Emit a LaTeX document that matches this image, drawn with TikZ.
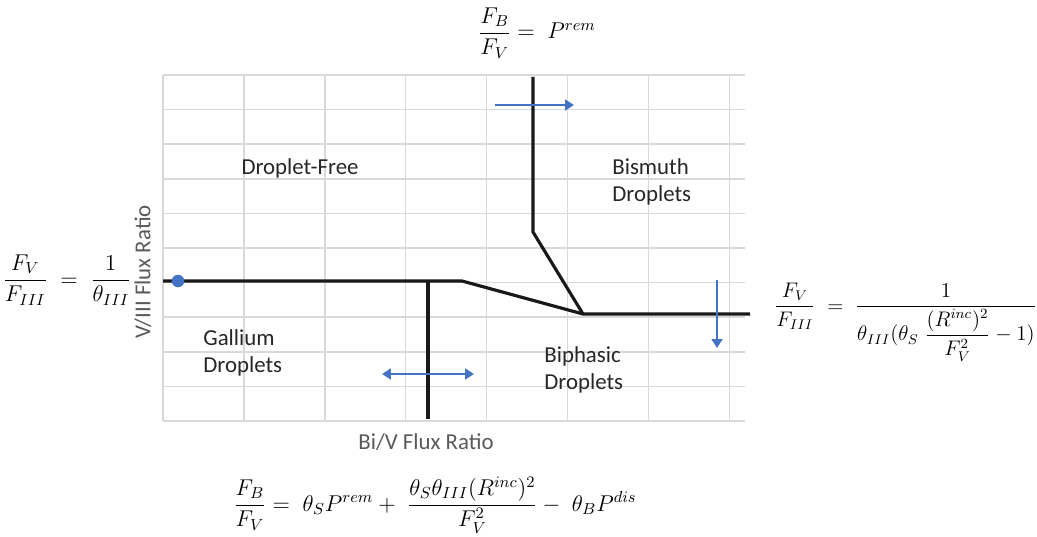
\documentclass[tikz,border=0pt]{standalone}
\usepackage{fix-cm}
\usepackage{amsmath,amssymb}
\usepackage{fontspec}
\newfontfamily\calibri{Carlito}
\usepackage{xcolor}
\usepackage{tikz}
\usetikzlibrary{positioning,arrows.meta}
\definecolor{gridgray}{HTML}{D9D9D9}
\definecolor{officeblue}{HTML}{4472C4}
\definecolor{axisgray}{HTML}{595959}

\begin{document}
\begin{tikzpicture}[
  x=0.02cm, y=-0.02cm,
  region/.style={font=\calibri\fontsize{13}{15.5}\selectfont, text=black!85, align=left, inner sep=0pt},
  axislabel/.style={font=\calibri\fontsize{13}{15.5}\selectfont, text=axisgray, inner sep=0pt},
  eqn/.style={font=\fontsize{13}{16}\selectfont, inner sep=0pt},
  boundary/.style={line width=1.8pt, black!90},
  trend/.style={line width=1.6pt, officeblue, -{Triangle[length=5pt,width=6pt]}},
  trendboth/.style={trend, {Triangle[length=5pt,width=6pt]}-{Triangle[length=5pt,width=6pt]}},
  startdot/.style={circle, fill=officeblue, minimum size=0.25cm, inner sep=0pt},
  >=stealth
]
  \useasboundingbox (0,0) rectangle (1037,537);
  % grid
  \foreach \i in {0,...,7}
    \draw[gridgray, line width=0.9pt] (163+80.9*\i,75) -- (163+80.9*\i,421);
  \foreach \j in {0,...,10}
    \draw[gridgray, line width=0.9pt] (163,75+34.6*\j) -- (745,75+34.6*\j);

  % phase boundaries
  \coordinate (leftend) at (163,281);
  \coordinate (kneeL) at (462,281);
  \coordinate (gaTop) at (428,281);
  \coordinate (gaBot) at (428,419);
  \coordinate (triple) at (583,314);
  \coordinate (rightend) at (750,314);
  \coordinate (biTop) at (533,77);
  \coordinate (biKnee) at (533,232);
  \draw[boundary] (leftend) -- (kneeL) -- (triple) -- (rightend);
  \draw[boundary] (gaTop) -- (gaBot);
  \draw[boundary] (biTop) -- (biKnee) -- (triple);
  \node[startdot] (start) at (178,281) {};

  % shifts
  \coordinate (biFrom) at (495,105);
  \coordinate (biTo) at (574,105);
  \coordinate (gaLeft) at (382,374);
  \coordinate (gaRight) at (474,374);
  \coordinate (vTop) at (717,280);
  \coordinate (vBot) at (717,348);
  \draw[trend] (biFrom) -- (biTo);
  \draw[trendboth] (gaLeft) -- (gaRight);
  \draw[trend] (vTop) -- (vBot);

  % regions and axes
  \node[region] (free) at (300,168) {Droplet-Free};
  \node[region, anchor=west] (bismuth) at (612,182) {Bismuth\\Droplets};
  \node[region, anchor=west] (gallium) at (203,353) {Gallium\\Droplets};
  \node[region, anchor=west] (biphasic) at (544,370) {Biphasic\\Droplets};
  \node[axislabel, rotate=90] (vlabel) at (143,272) {V/III Flux Ratio};
  \node[axislabel] (hlabel) at (426,442) {Bi/V Flux Ratio};

  % boundary equations
  \node[eqn, anchor=base] (topeq) at (537,39)
    {$\dfrac{F_B}{F_V} = \;P^{rem}$};
  \node[eqn, anchor=base] (lefteq) at (67,286)
    {$\dfrac{F_V}{F_{III}} \;=\; \dfrac{1}{\theta_{III}}$};
  \node[eqn, font=\fontsize{12}{15}\selectfont, anchor=base west] (righteq) at (774,312)
    {$\dfrac{F_V}{F_{III}} \;=\; \dfrac{1}{\theta_{III}(\theta_S\;\dfrac{(R^{inc})^2}{F_V^2} - 1)}$};
  \node[eqn, anchor=base] (boteq) at (435,511)
    {$\dfrac{F_B}{F_V} = \;\theta_S P^{rem} + \;\dfrac{\theta_S\theta_{III}(R^{inc})^2}{F_V^2} - \;\theta_B P^{dis}$};
\end{tikzpicture}
\end{document}
